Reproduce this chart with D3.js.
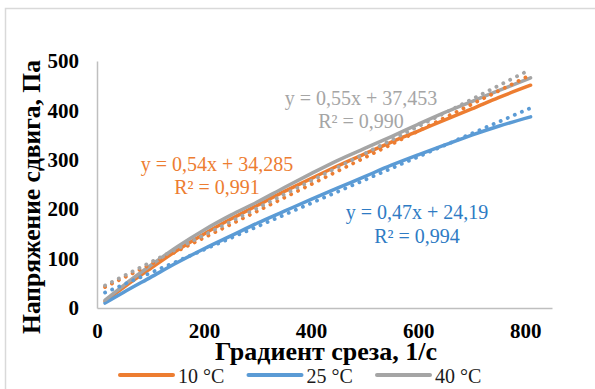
<!DOCTYPE html>
<html>
<head>
<meta charset="utf-8">
<script src="https://cdn.jsdelivr.net/npm/d3@7/dist/d3.min.js"></script>
<style>
  html, body { margin: 0; padding: 0; background: #fff; }
  svg { display: block; }
  text { font-family: "Times New Roman", "Liberation Serif", serif; }
</style>
</head>
<body>
<svg id="chart" width="595" height="389"></svg>
<script>
// Shear rate, 1/s
const shearRate = [15, 50, 100, 150, 200, 250, 300, 350, 400, 450, 500, 550, 600, 650, 700, 750, 810];
// Shear stress, Pa, at each temperature
const stress10 = [14, 42, 80, 117, 150, 180, 208, 236, 262, 288, 312, 336, 358, 381, 403, 426, 451];
const stress25 = [10, 32, 62, 92, 120, 146, 172, 196, 220, 243, 266, 289, 310, 330, 350, 368, 387];
const stress40 = [16, 46, 86, 124, 158, 188, 215, 244, 272, 299, 323, 347, 372, 396, 418, 440, 466];

const seriesNames = ["10 °C", "25 °C", "40 °C"];
const seriesColors = ["#ED7D31", "#5B9BD5", "#A5A5A5"];
const labelColors = ["#ED7D31", "#2E7BC4", "#A5A5A5"];

// Linear trendlines: y = slope * x + intercept
const slopes = [0.54, 0.47, 0.55];
const intercepts = [34.285, 24.19, 37.453];
const rSquared = ["0,991", "0,994", "0,990"];

const xTicks = [0, 200, 400, 600, 800];
const yTicks = [0, 100, 200, 300, 400, 500];

const serif = "'Times New Roman', 'Liberation Serif', serif";
const svg = d3.select("#chart");

// outer chart frame
svg.append("rect")
  .attr("x", 5.5).attr("y", 8.5).attr("width", 620).attr("height", 420)
  .attr("fill", "none").attr("stroke", "#d9d9d9").attr("stroke-width", 1.5);

const x = d3.scaleLinear().domain([0, 850]).range([97, 552]);
const y = d3.scaleLinear().domain([0, 500]).range([308, 61]);

// axes
const xAxis = svg.append("g").attr("transform", "translate(0,308)")
  .call(d3.axisBottom(x).tickValues(xTicks).tickSize(0).tickSizeOuter(0).tickPadding(15.5));
const yAxis = svg.append("g").attr("transform", "translate(97,0)")
  .call(d3.axisLeft(y).tickValues(yTicks).tickSize(0).tickSizeOuter(0).tickPadding(18));

[xAxis, yAxis].forEach(g => {
  g.attr("font-family", serif);
  g.select(".domain").attr("stroke", "#bfbfbf").attr("stroke-width", 1.5);
  g.selectAll("text")
    .attr("font-size", 21).attr("font-weight", "bold").attr("fill", "#000");
});

// axis titles
svg.append("text")
  .attr("x", 326).attr("y", 359.5)
  .attr("text-anchor", "middle")
  .attr("font-size", 26).attr("font-weight", "bold").attr("fill", "#000")
  .text("Градиент среза, 1/с");

svg.append("text")
  .attr("transform", "translate(40,197) rotate(-90)")
  .attr("text-anchor", "middle")
  .attr("font-size", 25.5).attr("font-weight", "bold").attr("fill", "#000")
  .text("Напряжение сдвига, Па");

// measured curves (smoothed)
const seriesData = [stress10, stress25, stress40].map(vals => shearRate.map((r, i) => [r, vals[i]]));
const line = d3.line().x(d => x(d[0])).y(d => y(d[1])).curve(d3.curveMonotoneX);

seriesData.forEach((pts, i) => {
  svg.append("path")
    .attr("d", line(pts))
    .attr("fill", "none")
    .attr("stroke", seriesColors[i])
    .attr("stroke-width", 3.5)
    .attr("stroke-linecap", "round")
    .attr("stroke-linejoin", "round");
});

// dotted trendlines across the measured range
const xMin = d3.min(shearRate), xMax = d3.max(shearRate);
slopes.forEach((k, i) => {
  const b = intercepts[i];
  svg.append("line")
    .attr("x1", x(xMin)).attr("y1", y(k * xMin + b))
    .attr("x2", x(xMax)).attr("y2", y(k * xMax + b))
    .attr("stroke", seriesColors[i])
    .attr("stroke-width", 3.8)
    .attr("stroke-linecap", "round")
    .attr("stroke-dasharray", "0.1 7.6");
});

// trendline equations
const fmt = v => String(v).replace(".", ",");
const labelPos = [
  { cx: 217, y1: 171, y2: 194 },
  { cx: 417, y1: 219, y2: 243 },
  { cx: 361, y1: 105, y2: 128 }
];
slopes.forEach((k, i) => {
  const p = labelPos[i];
  const t = svg.append("text")
    .attr("text-anchor", "middle")
    .attr("font-size", 20)
    .attr("fill", labelColors[i]);
  t.append("tspan").attr("x", p.cx).attr("y", p.y1)
    .text(`y = ${fmt(k)}x + ${fmt(intercepts[i])}`);
  t.append("tspan").attr("x", p.cx).attr("y", p.y2)
    .text(`R² = ${rSquared[i]}`);
});

// legend
const legendX = [120, 248.5, 377];
seriesNames.forEach((name, i) => {
  const lx = legendX[i];
  svg.append("line")
    .attr("x1", lx).attr("x2", lx + 53)
    .attr("y1", 375).attr("y2", 375)
    .attr("stroke", seriesColors[i]).attr("stroke-width", 4)
    .attr("stroke-linecap", "round");
  svg.append("text")
    .attr("x", lx + 58).attr("y", 382.5)
    .attr("font-size", 20).attr("fill", "#1a1a1a")
    .text(name);
});
</script>
</body>
</html>
